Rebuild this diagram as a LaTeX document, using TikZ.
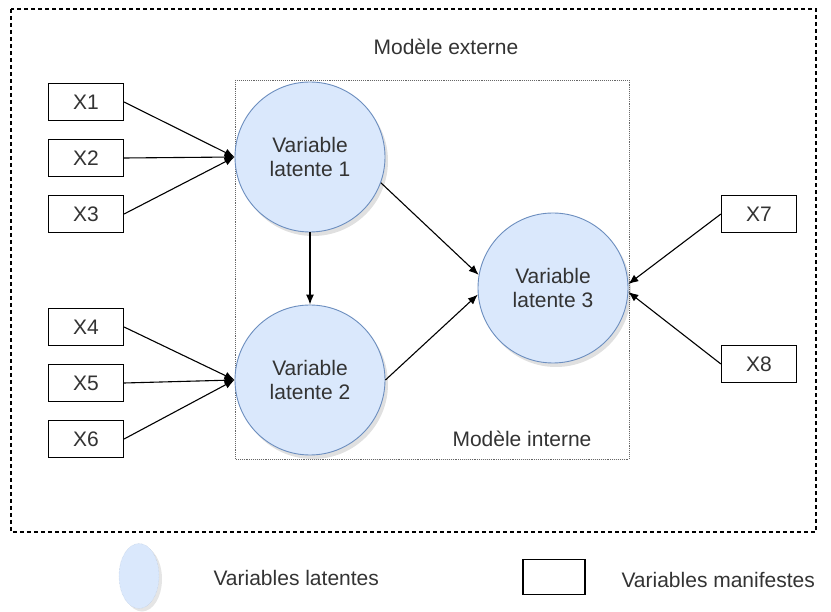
\documentclass[tikz,border=0pt]{standalone}
\usepackage{fontspec}
\setmainfont{Liberation Sans}
\usetikzlibrary{arrows.meta,shapes.geometric}
\definecolor{lfill}{HTML}{DAE8FC}
\definecolor{ldraw}{HTML}{6C8EBF}
\definecolor{txt}{HTML}{333333}
\begin{document}
\begin{tikzpicture}[x=1pt,y=-1pt,
  every node/.style={font=\fontsize{21}{24}\selectfont, text=txt},
  latent/.style={circle, draw=ldraw, fill=lfill, minimum size=150pt, inner sep=0pt, align=center, line width=0.9pt},
  manifest/.style={draw=black, fill=white, minimum width=75pt, minimum height=37pt, inner sep=0pt, line width=1.2pt},
  conn/.style={-{Latex[length=10pt,width=8pt]}, line width=1.1pt, black},
  shade/.style={circle, fill=black, opacity=0.12, minimum size=150pt, draw=none}]
\useasboundingbox (0,0) rectangle (831,612);
\fill[white] (0,0) rectangle (831,612);
% outer and inner boxes
\draw[line width=1.1pt, dash pattern=on 4pt off 3pt] (11,9) rectangle (816,532);
\draw[densely dotted, gray!80!black, line width=0.9pt] (235,80) rectangle (629,459);
\node (ext) at (446,47) {Modèle externe};
\node (int) at (522,439) {Modèle interne};
% shadows
\node[shade] at (313,161) {};
\node[shade] at (313,384) {};
\node[shade] at (556,292) {};
% latent variables
\node[latent] (L1) at (310,157) {Variable\\latente 1};
\node[latent] (L2) at (310,380) {Variable\\latente 2};
\node[latent] (L3) at (553,288) {Variable\\latente 3};
% manifest variables
\node[manifest] (X1) at (86,102) {X1};
\node[manifest] (X2) at (86,158) {X2};
\node[manifest] (X3) at (86,214) {X3};
\node[manifest] (X4) at (86,327) {X4};
\node[manifest] (X5) at (86,383) {X5};
\node[manifest] (X6) at (86,439) {X6};
\node[manifest] (X7) at (759,214) {X7};
\node[manifest] (X8) at (759,364) {X8};
% connectors
\foreach \x in {X1,X2,X3} \draw[conn] (\x.east) -- (L1.west);
\foreach \x in {X4,X5,X6} \draw[conn] (\x.east) -- (L2.west);
\draw[conn] (L1.south) -- (L2.north);
\draw[conn] (L1.-20) -- (L3.170);
\draw[conn] (L2.east) -- (L3.185);
\draw[conn] (X7.west) -- (L3.3);
\draw[conn] (X8.west) -- (L3.-3);
% legend
\node[ellipse, fill=black, opacity=0.1, minimum width=40pt, minimum height=65pt, inner sep=0pt] at (142,579) {};
\node[ellipse, fill=lfill, draw=ldraw!50, densely dotted, minimum width=40pt, minimum height=65pt, inner sep=0pt] (legL) at (139,576) {};
\node[anchor=west] (legLt) at (210,578) {Variables latentes};
\node[manifest, minimum width=62pt, minimum height=35pt] (legM) at (554,577) {};
\node[anchor=west] (legMt) at (618,580) {Variables manifestes};
\end{tikzpicture}
\end{document}
